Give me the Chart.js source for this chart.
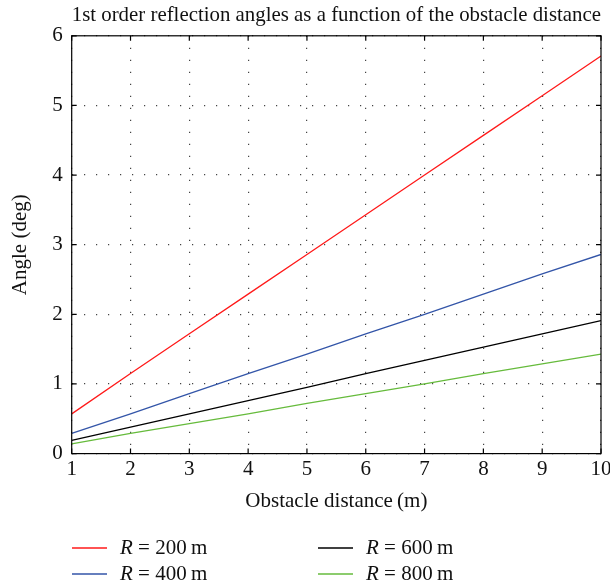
<!DOCTYPE html>
<html>
<head>
<meta charset="utf-8">
<title>Reflection angles</title>
<script src="https://cdn.jsdelivr.net/npm/chart.js@4.4.0/dist/chart.umd.min.js"></script>
<style>
  html, body { margin: 0; padding: 0; background: #fff; }
</style>
</head>
<body>
<canvas id="chart" width="610" height="584"></canvas>
<script>
// Obstacle distance (m)
const distances = [1, 2, 3, 4, 5, 6, 7, 8, 9, 10];

// Reflection angle (deg) for each R
const angleR200 = [0.57, 1.15, 1.72, 2.29, 2.86, 3.43, 4.00, 4.57, 5.14, 5.71];
const angleR400 = [0.29, 0.57, 0.86, 1.15, 1.43, 1.72, 2.00, 2.29, 2.58, 2.86];
const angleR600 = [0.19, 0.38, 0.57, 0.76, 0.95, 1.15, 1.34, 1.53, 1.72, 1.91];
const angleR800 = [0.14, 0.29, 0.43, 0.57, 0.72, 0.86, 1.00, 1.15, 1.29, 1.43];

const xTicks = [1, 2, 3, 4, 5, 6, 7, 8, 9, 10];
const yTicks = [0, 1, 2, 3, 4, 5, 6];

const seriesNames = ['200', '400', '600', '800'];
const seriesColors = ['#ff1a1a', '#3355a8', '#000000', '#66bb3c'];

const FONT = '"Liberation Serif", "DejaVu Serif", serif';
const FS = 21;

function toPoints(values) {
    return distances.map((d, i) => ({ x: d, y: values[i] }));
}

// Box around the plot plus short inward tick marks
const framePlugin = {
    id: 'frame',
    afterDraw(chart) {
        const { ctx, chartArea: a, scales: { x, y } } = chart;
        ctx.save();
        ctx.strokeStyle = '#000';
        ctx.lineWidth = 1.2;
        ctx.strokeRect(a.left, a.top, a.right - a.left, a.bottom - a.top);
        ctx.beginPath();
        xTicks.forEach(v => {
            const px = x.getPixelForValue(v);
            ctx.moveTo(px, a.bottom); ctx.lineTo(px, a.bottom - 5);
            ctx.moveTo(px, a.top); ctx.lineTo(px, a.top + 5);
        });
        yTicks.forEach(v => {
            const py = y.getPixelForValue(v);
            ctx.moveTo(a.left, py); ctx.lineTo(a.left + 5, py);
            ctx.moveTo(a.right, py); ctx.lineTo(a.right - 5, py);
        });
        ctx.stroke();
        ctx.restore();
    }
};

// Two-column legend below the axis, with italic R
const legendPlugin = {
    id: 'customLegend',
    afterDraw(chart) {
        const ctx = chart.ctx;
        const cols = [72, 318];
        const rows = [548, 574];
        ctx.save();
        ctx.textBaseline = 'middle';
        chart.data.datasets.forEach((ds, i) => {
            const x0 = cols[Math.floor(i / 2)];
            const y0 = rows[i % 2];
            ctx.strokeStyle = ds.borderColor;
            ctx.lineWidth = 1.3;
            ctx.beginPath();
            ctx.moveTo(x0, y0); ctx.lineTo(x0 + 35, y0);
            ctx.stroke();
            ctx.fillStyle = '#111';
            let tx = x0 + 48;
            ctx.font = 'italic ' + FS + 'px ' + FONT;
            ctx.fillText('R', tx, y0);
            tx += ctx.measureText('R').width;
            ctx.font = FS + 'px ' + FONT;
            ctx.fillText(' = ' + seriesNames[i] + '\u2009m', tx, y0);
        });
        ctx.restore();
    }
};

const dottedGrid = { color: '#444', lineWidth: 1.2, drawTicks: false };
const noBorder = { display: false, dash: [1.2, 10.8] };

new Chart(document.getElementById('chart'), {
    type: 'line',
    data: {
        datasets: [angleR200, angleR400, angleR600, angleR800].map((vals, i) => ({
            label: 'R = ' + seriesNames[i] + ' m',
            data: toPoints(vals),
            borderColor: seriesColors[i],
            borderWidth: 1.3,
            pointRadius: 0,
            tension: 0,
            fill: false
        }))
    },
    options: {
        responsive: false,
        animation: false,
        layout: { padding: { top: 0, right: 9, bottom: 70, left: 8 } },
        plugins: {
            legend: { display: false },
            tooltip: { enabled: false },
            title: {
                display: true,
                fullSize: false,
                text: '1st order reflection angles as a function of the obstacle distance',
                color: '#111',
                font: { family: FONT, size: 21.5, weight: 'normal' },
                padding: { top: 2, bottom: 8 }
            }
        },
        scales: {
            x: {
                type: 'linear',
                min: 1,
                max: 10,
                afterBuildTicks: s => { s.ticks = xTicks.map(v => ({ value: v })); },
                // let the "10" label hang past the right edge of the plot
                afterFit: s => { s.paddingRight = 0; },
                ticks: { color: '#111', padding: 3, font: { family: FONT, size: FS } },
                grid: dottedGrid,
                border: noBorder,
                title: {
                    display: true,
                    text: 'Obstacle distance\u2009(m)',
                    color: '#111',
                    font: { family: FONT, size: FS },
                    padding: { top: 4, bottom: 0 }
                }
            },
            y: {
                min: 0,
                max: 6,
                afterBuildTicks: s => { s.ticks = yTicks.map(v => ({ value: v })); },
                ticks: { color: '#111', padding: 9, font: { family: FONT, size: FS } },
                grid: dottedGrid,
                border: noBorder,
                title: {
                    display: true,
                    text: 'Angle (deg)',
                    color: '#111',
                    font: { family: FONT, size: FS },
                    padding: { top: 0, bottom: 10 }
                }
            }
        }
    },
    plugins: [framePlugin, legendPlugin]
});
</script>
</body>
</html>
